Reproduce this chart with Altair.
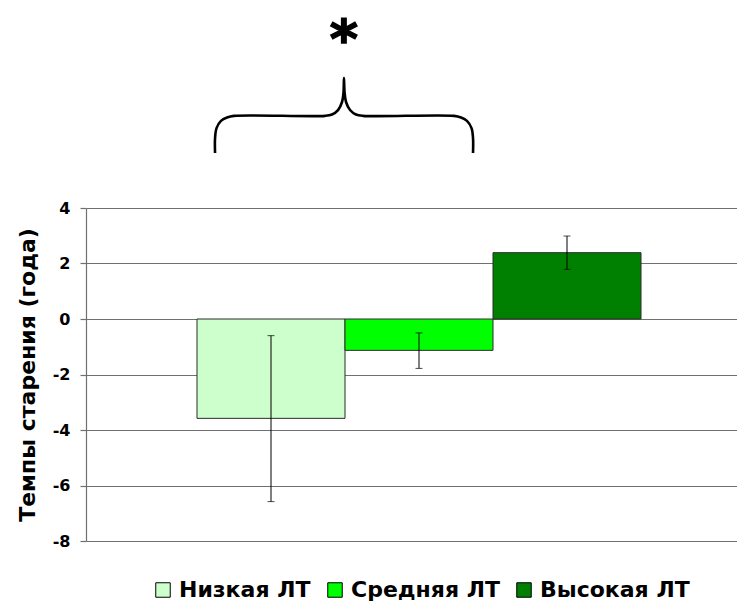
import altair as alt
import pandas as pd

# ---- data ----
categories = ["Низкая ЛТ", "Средняя ЛТ", "Высокая ЛТ"]
means = [-3.58, -1.13, 2.39]
err_low = [-6.58, -1.78, 1.79]
err_high = [-0.60, -0.50, 2.99]
colors = ["#CCFFCC", "#00FF00", "#008000"]
y_ticks = [-8, -6, -4, -2, 0, 2, 4]
y_title = "Темпы старения (года)"

# brace annotation (x in category-step units, y in data units)
brace_u = [0.872, 0.872, 0.882, 0.912, 0.953, 1.000, 1.615, 1.662, 1.703, 1.730, 1.740, 1.743,
           1.747, 1.757, 1.784, 1.824, 1.872, 2.486, 2.534, 2.574, 2.605, 2.615, 2.615]
brace_y = [5.98, 6.52, 6.88, 7.14, 7.26, 7.32, 7.32, 7.37, 7.53, 7.82, 8.18, 8.68,
           8.18, 7.82, 7.53, 7.37, 7.32, 7.32, 7.26, 7.14, 6.88, 6.52, 5.98]
star_u = [1.743]
star_y = [9.40]
star_text = ["*"]

FONT = "DejaVu Sans"

df = pd.DataFrame({"cat": categories, "mean": means, "lo": err_low, "hi": err_high})
brace_df = pd.DataFrame({"i": list(range(len(brace_u))), "u": brace_u, "y": brace_y})
star_df = pd.DataFrame({"u": star_u, "y": star_y, "t": star_text})

xs = alt.Scale(domain=categories, range=[0, 666], paddingInner=0, paddingOuter=0.75)
us = alt.Scale(domain=[0, 4.5], range=[0, 666])
ys = alt.Scale(domain=[-8, 4], nice=False, zero=False)

y_axis = alt.Axis(
    values=y_ticks, title=y_title, grid=True, labelExpr="'' + datum.value",
    domainColor="#707070", domainWidth=1.2, tickColor="#707070", tickSize=6, tickWidth=1.2,
    gridColor="#707070", gridWidth=1.2,
    labelFont=FONT, labelFontSize=16, labelFontWeight="bold", labelColor="black", labelPadding=10,
    titleFont=FONT, titleFontSize=22, titleFontWeight="bold", titleColor="black", titlePadding=13,
)

bars = alt.Chart(df).mark_bar(stroke="#2a2a2a", strokeWidth=1, opacity=1).encode(
    x=alt.X("cat:N", scale=xs, axis=None, sort=categories),
    y=alt.Y("mean:Q", scale=ys, axis=y_axis),
    y2=alt.datum(0),
    color=alt.Color(
        "cat:N", sort=categories,
        scale=alt.Scale(domain=categories, range=colors),
        legend=alt.Legend(
            title=None, orient="none", legendX=66, legendY=371, direction="horizontal",
            symbolType="square", symbolSize=210, symbolStrokeColor="black", symbolStrokeWidth=1,
            symbolOpacity=1, labelFont=FONT, labelFontSize=22, labelFontWeight="bold",
            labelColor="black", labelOffset=5, columnPadding=13, padding=0,
        ),
    ),
)

err_rule = alt.Chart(df).mark_rule(color="black", strokeWidth=1).encode(
    x=alt.X("cat:N", scale=xs, axis=None, sort=categories),
    y=alt.Y("lo:Q", scale=ys, title=y_title),
    y2="hi:Q",
)
cap_lo = alt.Chart(df).mark_tick(color="black", size=7, thickness=1).encode(
    x=alt.X("cat:N", scale=xs, axis=None, sort=categories),
    y=alt.Y("lo:Q", scale=ys, title=y_title),
)
cap_hi = alt.Chart(df).mark_tick(color="black", size=7, thickness=1).encode(
    x=alt.X("cat:N", scale=xs, axis=None, sort=categories),
    y=alt.Y("hi:Q", scale=ys, title=y_title),
)

brace = alt.Chart(brace_df).mark_line(
    interpolate="catmull-rom", color="black", strokeWidth=2.6, clip=False
).encode(
    x=alt.X("u:Q", scale=us, axis=None),
    y=alt.Y("y:Q", scale=ys, title=y_title),
    order="i:Q",
)

star = alt.Chart(star_df).mark_text(
    font=FONT, fontSize=54, fontWeight="bold", align="center", baseline="alphabetic",
    color="black", stroke="black", strokeWidth=1.5
).encode(
    x=alt.X("u:Q", scale=us, axis=None),
    y=alt.Y("y:Q", scale=ys, title=y_title),
    text="t:N",
)

chart = (
    alt.layer(bars, err_rule, cap_lo, cap_hi, brace, star)
    .resolve_scale(x="independent")
    .properties(
        width=651, height=333,
        autosize=alt.AutoSizeParams(type="none"),
        padding={"left": 78, "top": 200, "right": 0, "bottom": 62},
        background="white",
    )
    .configure_view(stroke=None)
)

chart.save("out.html", embed_options={"renderer": "svg", "actions": False})
